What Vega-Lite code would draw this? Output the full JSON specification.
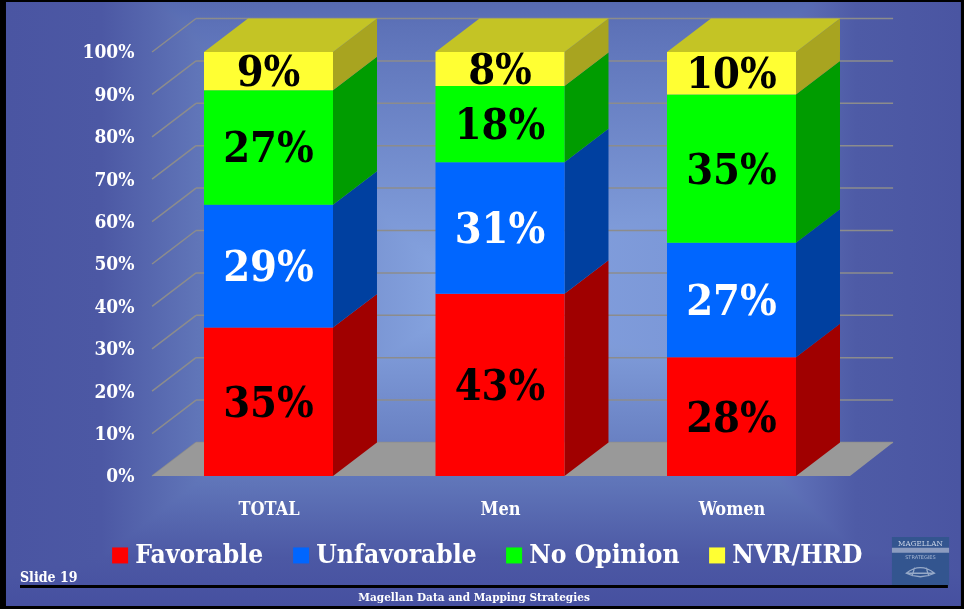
{
"$schema":"https://vega.github.io/schema/vega-lite/v6.json",
"width":964,"height":609,"padding":0,"autosize":{"type":"none"},
"background":"#000000",
"config":{"view":{"stroke":null},"font":"DejaVu Serif Condensed",
 "axis":{"grid":false,"domain":false,"ticks":false,"labelPadding":0,"labelFontWeight":"bold","labelColor":"#ffffff","labelFont":"DejaVu Serif Condensed","labelOverlap":false}},
"data":{"values":[
{"group":"TOTAL","slot":0,"series":"Favorable","value":35},
{"group":"TOTAL","slot":0,"series":"Unfavorable","value":29},
{"group":"TOTAL","slot":0,"series":"No Opinion","value":27},
{"group":"TOTAL","slot":0,"series":"NVR/HRD","value":9},
{"group":"Men","slot":1,"series":"Favorable","value":43},
{"group":"Men","slot":1,"series":"Unfavorable","value":31},
{"group":"Men","slot":1,"series":"No Opinion","value":18},
{"group":"Men","slot":1,"series":"NVR/HRD","value":8},
{"group":"Women","slot":2,"series":"Favorable","value":28},
{"group":"Women","slot":2,"series":"Unfavorable","value":27},
{"group":"Women","slot":2,"series":"No Opinion","value":35},
{"group":"Women","slot":2,"series":"NVR/HRD","value":10}
]},
"transform":[
{"stack":"value","groupby":["group"],"as":["y0","y1"]},
{"calculate":"datum.slot-0.2786","as":"xL"},
{"calculate":"datum.slot+0.2786","as":"xR"},
{"calculate":"(datum.y0+datum.y1)/2","as":"yMid"},
{"calculate":"datum.value+'%'","as":"label"}
],
"layer":[
{"data":{"values":[{"part":"panel"}]},
 "mark":{"type":"rect","color":{"gradient":"linear","x1":0,"y1":0,"x2":1,"y2":0,"stops":[{"offset":0,"color":"#4a55a2"},{"offset":0.1,"color":"#4c58a4"},{"offset":0.2,"color":"#6075b8"},{"offset":0.46,"color":"#86a4e0"},{"offset":0.7,"color":"#7c98d8"},{"offset":0.89,"color":"#4e5ba6"},{"offset":1,"color":"#4a55a2"}]}},
 "encoding":{
  "x":{"datum":-1.134,"type":"quantitative","title":null,"scale":{"domain":[-1.15983,3.00432],"nice":false,"zero":false},
   "axis":{"zindex":1,"orient":"bottom","offset":-109,"labelFontSize":18,"values":[0,1,2],"labelExpr":"['TOTAL','Men','Women'][datum.value]"}},
  "x2":{"datum":2.991},
  "y":{"datum":111.8,"type":"quantitative","title":null,"scale":{"domain":[-31.368,112.264],"nice":false,"zero":false},
   "axis":{"zindex":1,"orient":"left","offset":-134,"labelFontSize":19,"values":[0,10,20,30,40,50,60,70,80,90,100],"labelExpr":"datum.value+'%'"}},
  "y2":{"datum":-30.66}}},
{"data":{"values":[{"part":"panel"}]},
 "mark":{"type":"rect","blend":"darken","color":{"gradient":"linear","x1":0,"y1":0,"x2":0,"y2":1,"stops":[{"offset":0,"color":"#566ab2"},{"offset":0.04,"color":"#5d72b8"},{"offset":0.45,"color":"#86a4e0"},{"offset":0.52,"color":"#86a4e0"},{"offset":0.72,"color":"#6a82c4"},{"offset":0.8,"color":"#5f74b8"},{"offset":0.92,"color":"#4c58a4"},{"offset":1,"color":"#4650a0"}]}},
 "encoding":{
  "x":{"datum":-1.134,"type":"quantitative","title":null},
  "x2":{"datum":2.991},
  "y":{"datum":111.8,"type":"quantitative","title":null},
  "y2":{"datum":-30.66}}},
{"data":{"name":"ticks","values":[{"v":0},{"v":10},{"v":20},{"v":30},{"v":40},{"v":50},{"v":60},{"v":70},{"v":80},{"v":90},{"v":100}]},
 "transform":[{"calculate":"datum.v+7.9","as":"vBack"},{"calculate":"-0.503","as":"a"},{"calculate":"-0.313","as":"b"}],
 "mark":{"type":"rule","color":"#8c8c8c","strokeWidth":1.5},
 "encoding":{"x":{"field":"a","type":"quantitative","title":null},
  "x2":{"field":"b"},
  "y":{"field":"v","type":"quantitative","title":null},
  "y2":{"field":"vBack"}}},
{"data":{"name":"ticks"},
 "transform":[{"calculate":"datum.v+7.9","as":"vBack"},{"calculate":"-0.313","as":"b"},{"calculate":"2.698","as":"c"}],
 "mark":{"type":"rule","color":"#8c8c8c","strokeWidth":1.5},
 "encoding":{"x":{"field":"b","type":"quantitative","title":null},"x2":{"field":"c"},"y":{"field":"vBack","type":"quantitative","title":null}}},
{"data":{"values":[{"corner":"a"},{"corner":"b"},{"corner":"c"},{"corner":"d"}]},
 "transform":[
  {"calculate":"{a:-0.503,b:-0.313,c:2.512,d:2.698}[datum.corner]","as":"xpos"},
  {"calculate":"datum.corner=='d'?7.9:0","as":"lo"},
  {"calculate":"datum.corner=='a'?0:7.9","as":"hi"}],
 "mark":{"type":"area","color":"#999999"},
 "encoding":{"x":{"field":"xpos","type":"quantitative","title":null},"y":{"field":"lo","type":"quantitative","title":null},"y2":{"field":"hi"}}},
{"transform":[
  {"calculate":"datum.xR+0.19","as":"far"},
  {"fold":["xR","far"],"as":["edge","xpos"]},
  {"calculate":"datum.edge=='xR'?datum.y0:datum.y0+7.9","as":"lo"},
  {"calculate":"datum.edge=='xR'?datum.y1:datum.y1+7.9","as":"hi"}],
 "mark":{"type":"area"},
 "encoding":{"x":{"field":"xpos","type":"quantitative","title":null},"y":{"field":"lo","type":"quantitative","title":null},"y2":{"field":"hi"},"detail":{"field":"group"},
  "color":{"field":"series","type":"nominal","legend":null,"scale":{"domain":["Favorable","Unfavorable","No Opinion","NVR/HRD"],"range":["#a00000","#0040a0","#009c00","#a8a420"]}}}},
{"transform":[
  {"filter":"datum.series=='NVR/HRD'"},
  {"calculate":"datum.xL","as":"p1"},{"calculate":"datum.xL+0.19","as":"p2"},{"calculate":"datum.xR","as":"p3"},{"calculate":"datum.xR+0.19","as":"p4"},
  {"fold":["p1","p2","p3","p4"],"as":["corner","xpos"]},
  {"calculate":"datum.corner=='p4'?107.9:100","as":"lo"},
  {"calculate":"datum.corner=='p1'?100:107.9","as":"hi"}],
 "mark":{"type":"area","color":"#c4c425"},
 "encoding":{"x":{"field":"xpos","type":"quantitative","title":null},"y":{"field":"lo","type":"quantitative","title":null},"y2":{"field":"hi"},"detail":{"field":"group"}}},
{"mark":{"type":"rect"},
 "encoding":{"x":{"field":"xL","type":"quantitative","title":null},"x2":{"field":"xR"},"y":{"field":"y0","type":"quantitative","title":null},"y2":{"field":"y1"},
  "color":{"field":"series","type":"nominal","scale":{"domain":["Favorable","Unfavorable","No Opinion","NVR/HRD"],"range":["#ff0000","#0066ff","#00ff00","#ffff33"]},
   "legend":{"orient":"none","legendX":107,"legendY":542,"direction":"horizontal","columns":4,"title":null,"symbolType":"square","symbolSize":256,"symbolStrokeWidth":0,"symbolOpacity":1,"labelFontSize":26.2,"labelFontWeight":"bold","labelColor":"#ffffff","labelFont":"DejaVu Serif Condensed","columnPadding":24,"labelOffset":2,"labelLimit":300}}}},
{"mark":{"type":"text","fontSize":43,"fontWeight":"bold","font":"DejaVu Serif Condensed","align":"center","baseline":"middle","dy":2},
 "encoding":{"x":{"field":"slot","type":"quantitative","title":null},"y":{"field":"yMid","type":"quantitative","title":null},"text":{"field":"label"},
  "color":{"condition":{"test":"datum.series=='Unfavorable'","value":"#ffffff"},"value":"#000000"}}},
{"data":{"values":[{"text":"Slide 19"}]},
 "mark":{"type":"text","fontSize":14,"fontWeight":"bold","font":"DejaVu Serif Condensed","align":"left","baseline":"alphabetic","color":"#ffffff"},
 "encoding":{"x":{"datum":-1.0734,"type":"quantitative","title":null},"y":{"datum":-25,"type":"quantitative","title":null},"text":{"field":"text"}}},
{"data":{"values":[{"text":"Magellan Data and Mapping Strategies"}]},
 "mark":{"type":"text","fontSize":11.7,"fontWeight":"bold","font":"DejaVu Serif Condensed","align":"center","baseline":"alphabetic","color":"#ffffff"},
 "encoding":{"x":{"datum":0.888,"type":"quantitative","title":null},"y":{"datum":-29.5,"type":"quantitative","title":null},"text":{"field":"text"}}},
{"data":{"values":[{"part":"logo"}]},
 "mark":{"type":"rect","color":"#33558f"},
 "encoding":{"x":{"datum":2.693,"type":"quantitative","title":null},"x2":{"datum":2.94},"y":{"datum":-14.4,"type":"quantitative","title":null},"y2":{"datum":-25.8}}},
{"data":{"values":[{"part":"logo band"}]},
 "mark":{"type":"rect","color":"#8c9cc0"},
 "encoding":{"x":{"datum":2.693,"type":"quantitative","title":null},"x2":{"datum":2.94},"y":{"datum":-16.9,"type":"quantitative","title":null},"y2":{"datum":-18.1}}},
{"data":{"values":[{"text":"MAGELLAN"}]},
 "mark":{"type":"text","fontSize":8,"font":"DejaVu Serif Condensed","align":"center","baseline":"middle","color":"#c8d2e4"},
 "encoding":{"x":{"datum":2.816,"type":"quantitative","title":null},"y":{"datum":-16,"type":"quantitative","title":null},"text":{"field":"text"}}},
{"data":{"values":[{"text":"STRATEGIES"}]},
 "mark":{"type":"text","fontSize":5,"font":"DejaVu Sans","align":"center","baseline":"middle","color":"#a8b8d4","letterSpacing":1.5},
 "encoding":{"x":{"datum":2.816,"type":"quantitative","title":null},"y":{"datum":-19.1,"type":"quantitative","title":null},"text":{"field":"text"}}},
{"data":{"values":[{"part":"logo dome"}]},
 "mark":{"type":"point","filled":false,"stroke":"#c0cde0","strokeWidth":1.3,"size":800,"shape":"M-1,0.1 Q0,-0.7 1,0.1 Q0,0.6 -1,0.1 Z M-0.4,-0.3 L-0.6,0.3 M0.4,-0.3 L0.6,0.3 M-1,0.1 L1,0.1"},
 "encoding":{"x":{"datum":2.816,"type":"quantitative","title":null},"y":{"datum":-22.6,"type":"quantitative","title":null}}},
{"data":{"values":[{"part":"footer line"}]},
 "mark":{"type":"rule","color":"#000000","strokeWidth":3},
 "encoding":{"x":{"datum":-1.0734,"type":"quantitative","title":null},"x2":{"datum":2.9348},"y":{"datum":-26.06,"type":"quantitative","title":null}}}
],
"resolve":{"scale":{"color":"independent"}}
}
